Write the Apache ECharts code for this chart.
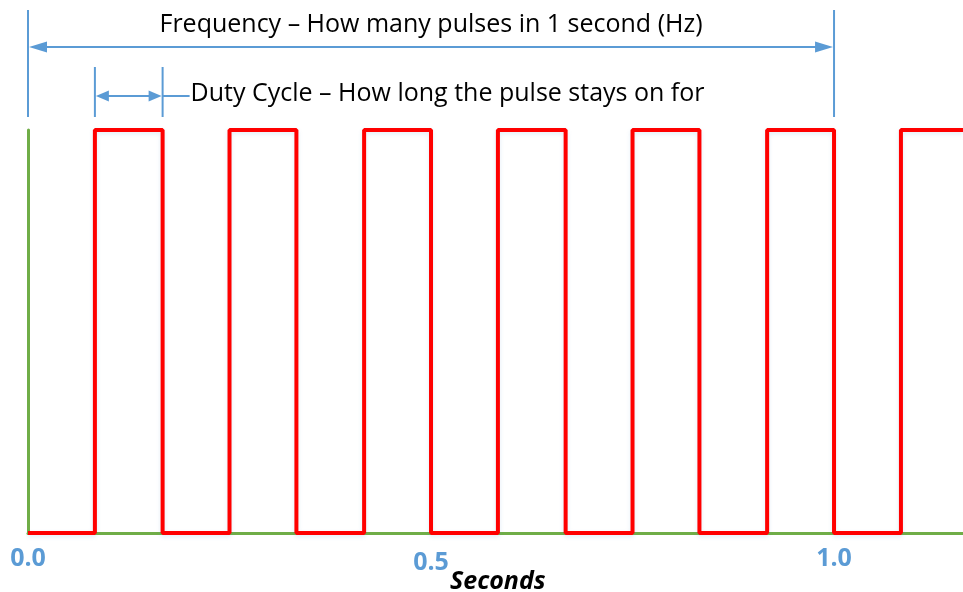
<!DOCTYPE html>
<html>
<head>
<meta charset="utf-8">
<script src="https://cdn.jsdelivr.net/npm/echarts@6/dist/echarts.min.js"></script>
<style>
html,body{margin:0;padding:0;background:#fff;}
#chart{width:963px;height:592px;}
</style>
</head>
<body>
<div id="chart"></div>
<script>
// Data
const times  = [0, 0.083, 0.167, 0.25, 0.333, 0.417, 0.5, 0.583, 0.667, 0.75, 0.833, 0.917, 1.0, 1.083, 1.16];
const levels = [0, 1, 0, 1, 0, 1, 0, 1, 0, 1, 0, 1, 0, 1, 1];
const xTicks = [0, 0.5, 1.0];
const freqSpan = [0, 1.0];
const dutySpan = [0.083, 0.167];
const freqText = 'Frequency – How many pulses in 1 second (Hz)';
const dutyText = 'Duty Cycle – How long the pulse stays on for';
const xName = 'Seconds';

const BLUE = '#5B9BD5', GREEN = '#70AD47', RED = '#FF0000';
const FONT = '"Open Sans", sans-serif';

const chart = echarts.init(document.getElementById('chart'));
chart.setOption({
  animation: false,
  title: {
    text: xName, left: 450, top: 569, padding: 0,
    textStyle: { color: '#000', fontWeight: 'bold', fontStyle: 'italic', fontSize: 25, fontFamily: FONT }
  },
  grid: { left: 28, right: 0, top: 130, bottom: 59, containLabel: false, outerBoundsMode: 'none' },
  xAxis: {
    type: 'value', min: 0, max: 1.16, interval: 0.5,
    axisLine: { show: true, onZero: false, lineStyle: { color: GREEN, width: 3 } },
    axisTick: { show: false },
    splitLine: { show: false },
    axisLabel: {
      showMaxLabel: false,
      margin: 13,
      formatter: function (v) {
        if (xTicks.indexOf(v) < 0) return '';
        const s = v.toFixed(1);
        return v === 0.5 ? '{low|' + s + '}' : '{n|' + s + '}';
      },
      rich: {
        n: { color: BLUE, fontWeight: 'bold', fontSize: 25, fontFamily: FONT },
        low: { color: BLUE, fontWeight: 'bold', fontSize: 25, fontFamily: FONT, padding: [4, 0, 0, 0] }
      }
    }
  },
  yAxis: {
    type: 'value', min: 0, max: 1,
    axisLine: { show: true, onZero: false, lineStyle: { color: GREEN, width: 3 } },
    axisTick: { show: false }, axisLabel: { show: false }, splitLine: { show: false }
  },
  series: [{
    type: 'line', step: 'end', showSymbol: false, clip: false,
    data: times.map((t, i) => [t, levels[i]]),
    lineStyle: { color: RED, width: 4, shadowColor: 'rgba(91,155,213,0.18)', shadowBlur: 4, shadowOffsetY: 2 }
  }]
});

function px(x) { return chart.convertToPixel({ gridIndex: 0 }, [x, 0])[0]; }

const lineStyle = { stroke: BLUE, lineWidth: 2 };
function vline(x, y1, y2) { return { type: 'line', shape: { x1: x, y1: y1, x2: x, y2: y2 }, style: lineStyle, silent: true }; }
function hline(x1, x2, y) { return { type: 'line', shape: { x1: x1, y1: y, x2: x2, y2: y }, style: lineStyle, silent: true }; }
function arrow(tipX, y, dir, len, half) {
  return { type: 'polygon', shape: { points: [[tipX, y], [tipX - dir * len, y - half], [tipX - dir * len, y + half]] }, style: { fill: BLUE }, silent: true };
}

const f0 = px(freqSpan[0]), f1 = px(freqSpan[1]);
const d0 = px(dutySpan[0]), d1 = px(dutySpan[1]);
const fy = 47, dy = 96;

chart.setOption({
  graphic: [
    vline(f0, 10, 117), vline(f1, 10, 117),
    hline(f0 + 10, f1 - 10, fy),
    arrow(f0 + 1, fy, -1, 18, 5.5), arrow(f1 - 1, fy, 1, 18, 5.5),
    vline(d0, 67, 117), vline(d1, 67, 117),
    hline(d0 + 8, d1 - 8, dy),
    arrow(d0 + 1, dy, -1, 13, 5.5), arrow(d1 - 1, dy, 1, 13, 5.5),
    hline(d1, d1 + 27, dy),
    { type: 'text', silent: true, style: { text: freqText, x: (f0 + f1) / 2, y: 25, textAlign: 'center', textVerticalAlign: 'middle', font: '25px ' + FONT, fill: '#000' } },
    { type: 'text', silent: true, style: { text: dutyText, x: d1 + 28, y: 94, textAlign: 'left', textVerticalAlign: 'middle', font: '25px ' + FONT, fill: '#000' } }
  ]
});
</script>
</body>
</html>
